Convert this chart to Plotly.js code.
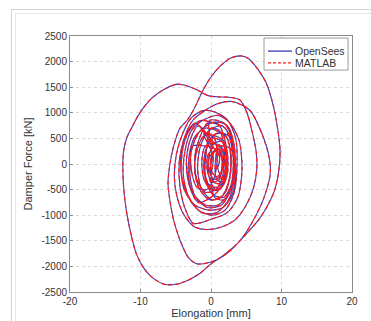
<!DOCTYPE html>
<html>
<head>
<meta charset="utf-8">
<script src="https://cdn.plot.ly/plotly-3.0.1.min.js"></script>
<style>
html,body{margin:0;padding:0;background:#fff;}
#frame{position:absolute;left:11px;top:9px;width:420px;height:400px;border-left:1px solid #d4d4d4;border-top:1px solid #d4d4d4;}
#frame2{position:absolute;left:15px;top:13px;width:420px;height:400px;border-left:1px solid #e6e6e6;border-top:1px solid #e6e6e6;}
#chart{position:absolute;left:0;top:0;width:371px;height:321px;}
</style>
</head>
<body>
<div id="frame"></div>
<div id="frame2"></div>
<div id="chart"></div>
<script>
// Elongation [mm] and Damper Force [kN] (one continuous trajectory)
const elongation = [
0,0.5,1.2,1.6,1.2,0.4,-0.3,-0.2,
0.6,1.8,2.3,2.0,1.0,-0.2,-1.0,-0.8,
0.2,1.8,2.8,2.7,1.8,0.2,-1.3,-1.9,-1.5,
-0.3,1.5,2.9,3.2,2.8,1.5,-0.5,-2.2,-3.0,-2.7,-1.5,
0.5,2.3,3.3,3.3,2.5,0.8,-1.3,-3.0,-3.9,-3.7,-2.8,-1.2,
1,2.7,4.0,4.4,3.8,2.3,0,-2.5,-3.6,-4.4,-4.5,-3.8,-2.6,-0.8,
1.0,3.0,5.5,7.2,8.3,8.4,7.4,6,4.5,2.5,0.3,-2,-3.2,-4,-4.8,-5.4,-5.9,-6.1,-5.8,-5.3,-4.4,-3.4,-2.5,-1.8,-1.1,0,1.3,2.8,4.35,5.3,6.2,7,7.7,8.2,8.9,9.5,9.8,9.6,9.0,8.0,6.8,5.3,3.7,1.8,-0.1,-1.6,-3.4,-5,-6.6,-8.3,-9.6,-10.6,-11.3,-11.9,-12.3,-12.5,-12.4,-11.9,-11.2,-10.4,-9.3,-8.2,-6.5,-4.8,-3.5,-2,-0.3,1.3,2.8,4.1,5.1,5.8,6.4,6.5,6.0,5.0,3.5,1.5,-0.5,-2.3,-3.8,-4.8,-5.2,-4.9,-4.0,-2.8,-1.0,0.8,
2.4,3.5,3.7,3.3,2,0.2,-1.8,-3.3,-4.2,-4.0,-3.1,-1.5,
0.3,2,3.0,3.1,2.4,1.0,-0.8,-2.4,-3.2,-3.0,-2.2,-0.8,
0.8,2.3,2.8,2.5,1.4,-0.2,-1.6,-2.3,-2.0,-1.0,
0.5,1.8,2.4,2.1,1.2,0,-1.0,-1.3,-0.8,
0.3,1.4,2.0,1.9,1.1,0.2,-0.5,-0.5,0.2,
0.2,1.5,2.2,2.0,1.0,-0.3,-0.9,-0.6,
0.8,2.5,3.3,3.0,1.8,0.3,-0.8,-0.7,
0.0,1.2,1.9,1.7,0.7,-0.8,-2.0,-2.3,-1.5,
-0.5,1.0,2.0,2.2,1.4,0,-1.8,-3.0,-3.5,-3.0,-1.8,
0.5,1.9,2.4,1.8,0.7,-0.2,-0.3,
1.2,2.8,3.4,3.0,1.8,0.5,0.0,0.3,
-1.0,0.3,0.9,0.5,-0.6,-2.0,-2.8,-2.6,
0.5,1.3,1.6,1.2,0.4,-0.1,0.1,
-0.2,1.8,3.0,3.5,3.0,1.7,-0.3,-2.3,-3.8,-4.3,-3.8,-2.2,
1.0,2.0,2.2,1.6,0.8,0.6,1.0,1.6,1.8,1.3,0.9,
1.0,1.7,1.5,0.8,0.1,0,0.6,1.2,1.0,0.5
];
const force = [
0,250,300,50,-250,-300,-100,200,
420,430,100,-300,-500,-450,-150,250,
550,600,250,-250,-600,-700,-500,-100,350,
650,750,500,0,-500,-800,-850,-650,-200,300,650,
820,750,350,-250,-700,-950,-950,-700,-250,250,650,850,
950,800,450,-100,-650,-950,-1080,-1160,-900,-450,50,500,850,1050,
1180,1220,1050,600,100,-200,-700,-1100,-1430,-1720,-1900,-1950,-1830,-1620,-1330,-1040,-650,-370,20,350,700,850,1050,1250,1450,1700,1910,2070,2110,2060,1930,1780,1620,1450,1100,650,250,-150,-520,-820,-1080,-1320,-1560,-1780,-1960,-2140,-2280,-2350,-2350,-2220,-2020,-1750,-1400,-1000,-600,-150,250,530,720,930,1150,1310,1470,1560,1530,1450,1330,1310,1300,1250,1000,650,250,-100,-480,-800,-1080,-1230,-1280,-1230,-1000,-650,-250,200,600,900,1050,1000,
850,500,0,-550,-900,-1000,-900,-600,-200,300,650,850,
800,700,300,-200,-600,-800,-800,-600,-250,250,550,700,
650,500,100,-350,-650,-700,-500,-150,250,550,
550,450,100,-300,-500,-500,-300,50,350,
400,350,100,-200,-380,-350,-150,150,320,
500,450,150,-250,-450,-400,-100,300,
600,550,150,-350,-650,-600,-300,200,
700,650,300,-200,-500,-550,-300,150,550,
800,780,450,0,-450,-650,-750,-450,0,450,750,
400,250,-100,-400,-500,-300,100,
350,300,-50,-450,-700,-650,-300,150,
600,550,200,-250,-500,-450,-100,350,
300,200,-50,-300,-350,-100,200,
850,800,500,-100,-600,-850,-900,-800,-500,0,500,800,
200,100,-150,-350,-300,0,300,250,0,-200,-50,
300,100,-150,-250,-150,100,250,150,-50,-100
];
const seriesNames = ["OpenSees", "MATLAB"];
const xTickVals = [-20, -10, 0, 10, 20];
const xTickText = ["-20", "-10", "0", "10", "20"];
const yTickVals = [2500, 2000, 1500, 1000, 500, 0, -500, -1000, -1500, -2000, -2500];
const yTickText = ["2500", "2000", "1500", "1000", "500", "0", "-500", "-1000", "-1500", "-2000", "-2500"];

const FONT = "Liberation Sans, Arial, sans-serif";
const blue = "#3a3ab8", red = "#ff1a1a";
const traces = [
  {x: elongation, y: force, name: seriesNames[0], type: "scatter", mode: "lines",
   line: {color: blue, width: 1.1, shape: "spline", smoothing: 0.8}},
  {x: elongation, y: force, name: seriesNames[1], type: "scatter", mode: "lines",
   line: {color: red, width: 1.2, dash: "4px,3px", shape: "spline", smoothing: 0.8}}
];

const axisCommon = {
  showline: true, mirror: true, linecolor: "#8a8a8a", linewidth: 1,
  ticks: "inside", ticklen: 3, tickcolor: "#8a8a8a",
  showgrid: true, gridcolor: "#d9d9d9", griddash: "dot", gridwidth: 1,
  zeroline: false, tickfont: {size: 10, color: "#333", family: FONT}
};

// manual MATLAB-style legend (paper coordinates)
const lg = {x0: 0.688, x1: 0.986, y0: 0.867, y1: 0.992, lx0: 0.702, lx1: 0.787, ly: [0.941, 0.895]};
const shapes = [
  {type: "rect", xref: "paper", yref: "paper", x0: lg.x0, x1: lg.x1, y0: lg.y0, y1: lg.y1,
   fillcolor: "#fff", line: {color: "#9a9a9a", width: 1}, layer: "above"},
  {type: "line", xref: "paper", yref: "paper", x0: lg.lx0, x1: lg.lx1, y0: lg.ly[0], y1: lg.ly[0],
   line: {color: blue, width: 1.3}, layer: "above"},
  {type: "line", xref: "paper", yref: "paper", x0: lg.lx0, x1: lg.lx1, y0: lg.ly[1], y1: lg.ly[1],
   line: {color: red, width: 1.3, dash: "3px,2px"}, layer: "above"}
];
const annotations = seriesNames.map((n, i) => ({
  xref: "paper", yref: "paper", x: lg.lx1 + 0.003, y: lg.ly[i], xanchor: "left", yanchor: "middle",
  text: n, showarrow: false, font: {size: 10.5, color: "#333", family: FONT}
}));

const layout = {
  width: 371, height: 321,
  margin: {l: 70, r: 19, t: 36, b: 29},
  paper_bgcolor: "rgba(0,0,0,0)", plot_bgcolor: "#fff",
  font: {family: FONT, size: 10, color: "#333"},
  showlegend: false,
  shapes: shapes, annotations: annotations,
  xaxis: Object.assign({}, axisCommon, {
    range: [-20, 20], tickvals: xTickVals, ticktext: xTickText,
    title: {text: "Elongation [mm]", font: {size: 11, color: "#333"}, standoff: 0}
  }),
  yaxis: Object.assign({}, axisCommon, {
    range: [-2500, 2500], tickvals: yTickVals, ticktext: yTickText,
    title: {text: "Damper Force [kN]", font: {size: 11, color: "#333"}, standoff: 6}
  })
};

Plotly.newPlot("chart", traces, layout, {displayModeBar: false, staticPlot: true});
</script>
</body>
</html>
